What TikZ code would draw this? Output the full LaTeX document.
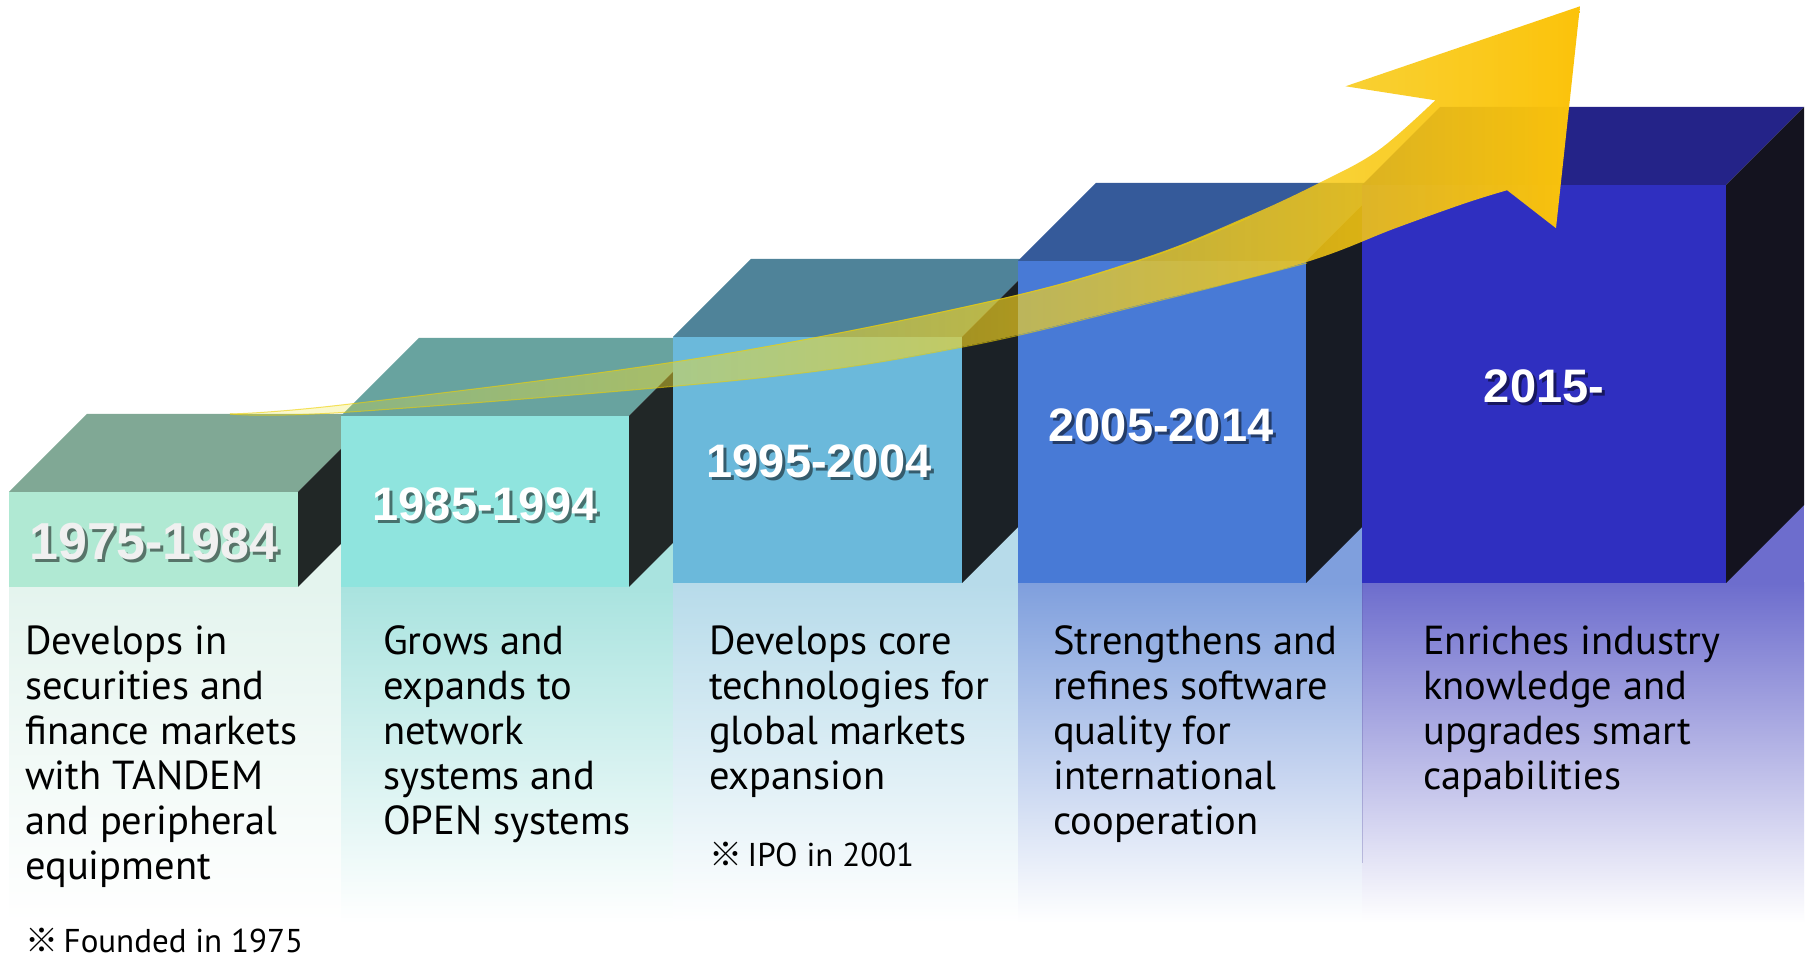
\documentclass[tikz,border=0pt]{standalone}
\usepackage{fontspec}
\setmainfont{PT Sans}
\newfontfamily\yearfont{Liberation Sans}
\newfontfamily\cjkfont{Noto Sans CJK SC}
\usetikzlibrary{fadings}

\definecolor{fA}{HTML}{B0E9D3}\definecolor{tA}{HTML}{80A895}\definecolor{sA}{HTML}{212726}\definecolor{pA}{HTML}{E4F4EE}
\definecolor{fB}{HTML}{8FE4DE}\definecolor{tB}{HTML}{68A39F}\definecolor{sB}{HTML}{212727}\definecolor{pB}{HTML}{A9E3DF}
\definecolor{fC}{HTML}{6BB9DB}\definecolor{tC}{HTML}{4F8399}\definecolor{sC}{HTML}{1B2126}\definecolor{pC}{HTML}{B7DBEA}
\definecolor{fD}{HTML}{487AD6}\definecolor{tD}{HTML}{355A9A}\definecolor{sD}{HTML}{171B24}\definecolor{pD}{HTML}{7F9FDD}
\definecolor{fE}{HTML}{2F2FC0}\definecolor{tE}{HTML}{242388}\definecolor{sE}{HTML}{14131F}\definecolor{pE}{HTML}{6D6DCD}
\definecolor{arrL}{HTML}{EEEA3A}\definecolor{arrR}{HTML}{FBC30A}\definecolor{arrEdge}{HTML}{F0D000}

\tikzfading[name=arrowfade, left color=transparent!80, middle color=transparent!38, right color=transparent!0]

% left, right, bottom, top, front, top colour, side colour
\newcommand\mycube[7]{%
  \fill[#6] (#1,#4) -- (#1+78,#4+78) -- (#2+78,#4+78) -- (#2,#4) -- cycle;
  \fill[#7] (#2,#4) -- (#2+78,#4+78) -- (#2+78,#3+78) -- (#2,#3) -- cycle;
  \fill[#5] (#1,#3) rectangle (#2,#4);}
% left, right, box bottom, colour
\newcommand\mypanel[4]{%
  \fill[#4] (#1,#3) rectangle (#2,#3+78);
  \shade[top color=#4, bottom color=white] (#1,40) rectangle (#2,#3);}

\tikzset{
  yr/.style={font=\yearfont\bfseries\fontsize{47}{50}\selectfont, text=white, inner sep=0pt},
  yrbig/.style={yr, font=\yearfont\bfseries\fontsize{52}{56}\selectfont, text=white!94!black},
  yrsh/.style={text=black, text opacity=0.5},
  body/.style={anchor=base west, inner sep=0pt, font=\fontsize{40.5}{45}\selectfont, text=black},
  note/.style={anchor=base west, inner sep=0pt, font=\fontsize{33}{40}\selectfont, text=black}
}

\begin{document}
\begin{tikzpicture}[x=1pt,y=1pt]
\useasboundingbox (0,0) rectangle (1808,963);
\fill[white] (0,0) rectangle (1808,963);

% floor panels
\mypanel{9}{341}{376}{pA}
\mypanel{341}{673}{376}{pB}
\mypanel{673}{1018}{380}{pC}
\mypanel{1018}{1362}{380}{pD}
\mypanel{1362}{1804}{380}{pE}
\draw[pE!80!black, opacity=0.3, line width=0.8pt] (1362,380) -- (1362,100);

% cubes
\mycube{9}{298}{376}{471}{fA}{tA}{sA}
\mycube{341}{629}{376}{547}{fB}{tB}{sB}
\mycube{673}{962}{380}{626}{fC}{tC}{sC}
\mycube{1018}{1306}{380}{702}{fD}{tD}{sD}
\mycube{1362}{1726}{380}{778}{fE}{tE}{sE}

% year labels
\node[yrbig, yrsh] (y1s) at (157,418) {1975-1984};
\node[yrbig] (y1) at (154,421) {1975-1984};
\node[yr, yrsh] (y2s) at (488,456) {1985-1994};
\node[yr] (y2) at (485,459) {1985-1994};
\node[yr, yrsh] (y3s) at (822,499) {1995-2004};
\node[yr] (y3) at (819,502) {1995-2004};
\node[yr, yrsh] (y4s) at (1164,535) {2005-2014};
\node[yr] (y4) at (1161,538) {2005-2014};
\node[yr, yrsh] (y5s) at (1547,574) {2015-};
\node[yr] (y5) at (1544,577) {2015-};

% descriptions
\node[body] (t1) at (25,308) {\parbox[t]{330pt}{\raggedright Develops in\\securities and\\finance markets\\with TANDEM\\and peripheral\\equipment}};
\node[body] (t2) at (383,308) {\parbox[t]{330pt}{\raggedright Grows and\\expands to\\network\\systems and\\OPEN systems}};
\node[body] (t3) at (709,308) {\parbox[t]{330pt}{\raggedright Develops core\\technologies for\\global markets\\expansion}};
\node[body] (t4) at (1053,308) {\parbox[t]{330pt}{\raggedright Strengthens and\\refines software\\quality for\\international\\cooperation}};
\node[body] (t5) at (1423,308) {\parbox[t]{360pt}{\raggedright Enriches industry\\knowledge and\\upgrades smart\\capabilities}};
\node[note] (n3) at (709,96) {{\cjkfont ※}\,IPO in 2001};
\node[note] (n1) at (25,10) {{\cjkfont ※}\,Founded in 1975};

% rising arrow
\def\arrowpath{plot[smooth, tension=0.6] coordinates {(230,549) (350,559) (700,605) (997,663) (1150,706) (1250,746) (1323,780) (1383,813) (1440,863)} -- (1350,877) -- (1585,957) -- (1561,735) -- (1512,773) -- plot[smooth, tension=0.6] coordinates {(1512,773) (1470,760) (1400,735) (1307,700) (1150,660) (963,616) (750,584) (350,551) (230,549)} -- cycle}
\shade[left color=arrL, right color=arrR, path fading=arrowfade] \arrowpath;
\draw[arrEdge, line width=1pt, draw opacity=0.6] plot[smooth, tension=0.6] coordinates {(230,549) (350,559) (700,605) (997,663) (1150,706) (1250,746)};
\draw[arrEdge, line width=1pt, draw opacity=0.6] plot[smooth, tension=0.6] coordinates {(1307,700) (1150,660) (963,616) (750,584) (350,551) (230,549)};
\end{tikzpicture}
\end{document}
